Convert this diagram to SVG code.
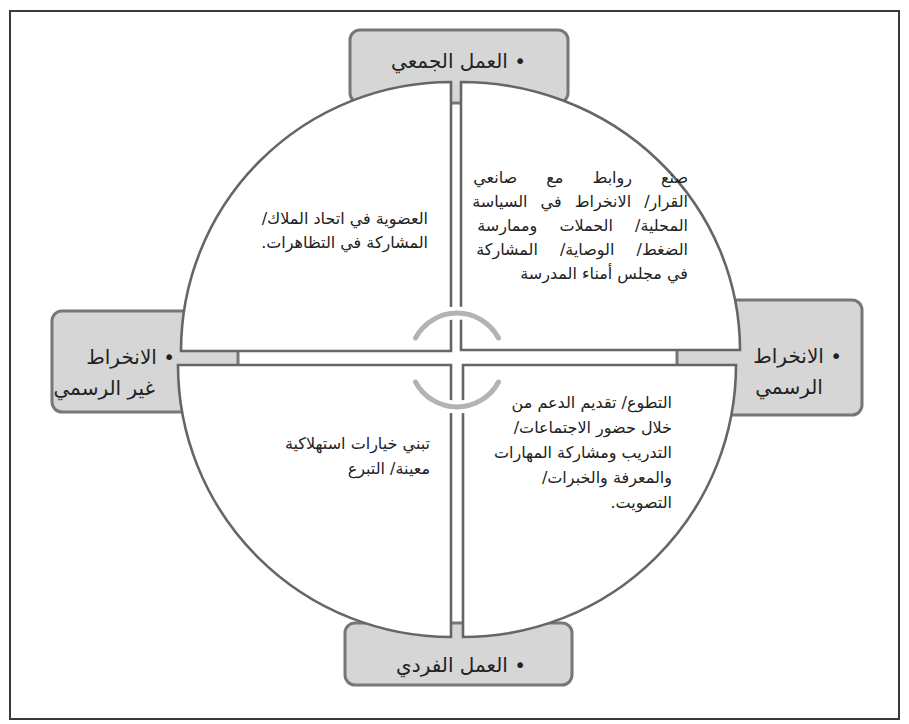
<svg xmlns="http://www.w3.org/2000/svg" width="909" height="724" viewBox="0 0 909 724">
<style>
.frame{fill:#ffffff;stroke:#3a3a3a;stroke-width:2}
.box{fill:#d6d6d6;stroke:#777777;stroke-width:3}
.quad{fill:#ffffff;stroke:#666666;stroke-width:2.6}
.halo{fill:none;stroke:#ffffff;stroke-width:13}
.arc{fill:none;stroke:#b3b3b3;stroke-width:5;stroke-linecap:round}
text{font-family:'DejaVu Sans',sans-serif;fill:#222222;direction:rtl}
.lbl{font-size:20px}
.body{font-size:16px}
</style>
<rect class="frame" x="10" y="11" width="889" height="708"/>
<g id="box-collective"><rect class="box" x="350" y="30" width="218" height="73" rx="10"/></g>
<g id="box-informal"><rect class="box" x="52" y="311" width="186" height="101" rx="10"/></g>
<g id="box-formal"><rect class="box" x="677" y="300" width="185" height="115" rx="10"/></g>
<g id="box-individual"><rect class="box" x="345" y="623" width="227" height="62" rx="10"/></g>
<g id="quadrants">
<g id="q-top-left"><path class="quad" d="M451,351 L181,351 A270 269 0 0 1 451,82 Z"/></g>
<g id="q-top-right"><path class="quad" d="M461,350 L461,82 A279 268 0 0 1 740,350 Z"/></g>
<g id="q-bottom-right"><path class="quad" d="M463,365 L736,365 A273 272 0 0 1 463,637 Z"/></g>
<g id="q-bottom-left"><path class="quad" d="M451,365 L451,637 A273 272 0 0 1 178,365 Z"/></g>
</g>
<g id="connectors">
<path class="halo" d="M415.5,338 A47 47 0 0 1 498.5,338"/>
<path class="halo" d="M415.5,382 A47 47 0 0 0 498.5,382"/>
<path class="arc" d="M415.5,338 A47 47 0 0 1 498.5,338"/>
<path class="arc" d="M415.5,382 A47 47 0 0 0 498.5,382"/>
</g>
<g id="labels">
<text class="lbl" x="526" y="68" text-anchor="start">• العمل الجمعي</text>
<text class="lbl" x="175" y="364" text-anchor="start">• الانخراط</text>
<text class="lbl" x="155" y="395" text-anchor="start">غير الرسمي</text>
<text class="lbl" x="842" y="363" text-anchor="start">• الانخراط</text>
<text class="lbl" x="789" y="394" text-anchor="middle">الرسمي</text>
<text class="lbl" x="526" y="672" text-anchor="start">• العمل الفردي</text>
</g>
<g id="text-top-left">
<text class="body" x="428" y="224" text-anchor="start">العضوية في اتحاد الملاك/</text>
<text class="body" x="428" y="248" text-anchor="start">المشاركة في التظاهرات.</text>
</g>
<g id="text-top-right">
<text class="body" x="688" y="183" text-anchor="start" word-spacing="24">صنع روابط مع صانعي</text>
<text class="body" x="688" y="207" text-anchor="start" word-spacing="8">القرار/ الانخراط في السياسة</text>
<text class="body" x="688" y="231" text-anchor="start" word-spacing="17">المحلية/ الحملات وممارسة</text>
<text class="body" x="688" y="255" text-anchor="start" word-spacing="17">الضغط/ الوصاية/ المشاركة</text>
<text class="body" x="688" y="279" text-anchor="start">في مجلس أمناء المدرسة</text>
</g>
<g id="text-bottom-left">
<text class="body" x="430" y="449" text-anchor="start">تبني خيارات استهلاكية</text>
<text class="body" x="430" y="474" text-anchor="start">معينة/ التبرع</text>
</g>
<g id="text-bottom-right">
<text class="body" x="672" y="408" text-anchor="start">التطوع/ تقديم الدعم من</text>
<text class="body" x="672" y="433" text-anchor="start">خلال حضور الاجتماعات/</text>
<text class="body" x="672" y="458" text-anchor="start">التدريب ومشاركة المهارات</text>
<text class="body" x="672" y="483" text-anchor="start">والمعرفة والخبرات/</text>
<text class="body" x="672" y="508" text-anchor="start">التصويت.</text>
</g>
</svg>
